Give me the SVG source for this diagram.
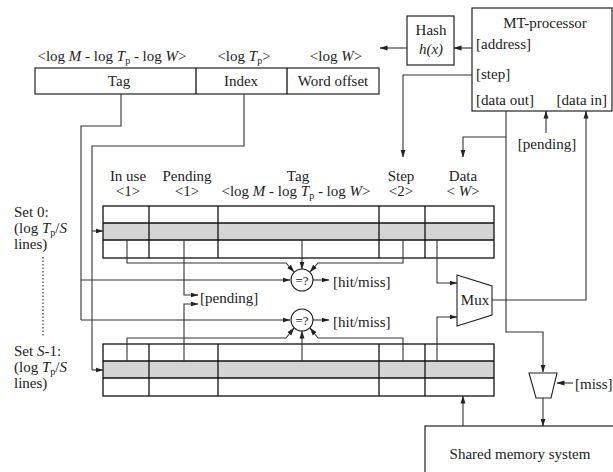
<svg xmlns="http://www.w3.org/2000/svg" width="613" height="472" viewBox="0 0 613 472">
<style>
text{font-family:"Liberation Serif","Times New Roman",serif;font-size:15px;fill:#222}
.m{text-anchor:middle}
.i{font-style:italic}
.sub{font-size:10px}
.box{fill:#fff;stroke:#222;stroke-width:1.2}
.gray{fill:#d4d4d4;stroke:none}
.tl{fill:none;stroke:#111;stroke-width:1.3}
.c{fill:none;stroke:#333;stroke-width:1.1}
.a{fill:none;stroke:#333;stroke-width:1.1;marker-end:url(#ah)}
.dot{fill:none;stroke:#333;stroke-width:1.2;stroke-dasharray:1.5 2}
</style>
<defs>
<marker id="ah" markerWidth="8" markerHeight="6" refX="7.5" refY="3" orient="auto" markerUnits="userSpaceOnUse">
<path d="M0,0.5 L8,3 L0,5.5 z" fill="#222"/>
</marker>
</defs>
<rect width="613" height="472" fill="#fff"/>

<g id="address-register">
<text class="m" x="112" y="61">&lt;log <tspan class="i">M</tspan> - log <tspan class="i">T</tspan><tspan class="sub" dy="3">p</tspan><tspan dy="-3"> - log </tspan><tspan class="i">W</tspan>&gt;</text>
<text class="m" x="244" y="61">&lt;log <tspan class="i">T</tspan><tspan class="sub" dy="3">p</tspan><tspan dy="-3">&gt;</tspan></text>
<text class="m" x="336" y="61">&lt;log <tspan class="i">W</tspan>&gt;</text>
<rect class="box" x="35" y="68" width="344" height="26"/>
<line class="tl" x1="196" y1="68" x2="196" y2="94"/>
<line class="tl" x1="287" y1="68" x2="287" y2="94"/>
<text class="m" x="119" y="86">Tag</text>
<text class="m" x="241" y="86">Index</text>
<text class="m" x="333" y="86">Word offset</text>
</g>

<g id="hash">
<rect class="box" x="407" y="16" width="47" height="49"/>
<text class="m" x="431" y="35">Hash</text>
<text class="m i" x="431" y="54">h(x)</text>
</g>

<g id="mt-processor">
<rect class="box" x="472" y="8" width="140" height="103"/>
<text class="m" x="545" y="28">MT-processor</text>
<text x="476" y="49">[address]</text>
<text x="476" y="79">[step]</text>
<text x="476" y="105">[data out]</text>
<text x="607" y="105" text-anchor="end">[data in]</text>
</g>

<g id="table-headers">
<text class="m" x="128" y="181">In use</text>
<text class="m" x="128" y="196">&lt;1&gt;</text>
<text class="m" x="187" y="181">Pending</text>
<text class="m" x="187" y="196">&lt;1&gt;</text>
<text class="m" x="298" y="181">Tag</text>
<text class="m" x="296" y="196">&lt;log <tspan class="i">M</tspan> - log <tspan class="i">T</tspan><tspan class="sub" dy="3">p</tspan><tspan dy="-3"> - log </tspan><tspan class="i">W</tspan>&gt;</text>
<text class="m" x="401" y="181">Step</text>
<text class="m" x="401" y="196">&lt;2&gt;</text>
<text class="m" x="463" y="181">Data</text>
<text class="m" x="463" y="196">&lt; <tspan class="i">W</tspan>&gt;</text>
</g>

<g id="set-0">
<text x="14" y="217">Set 0:</text>
<text x="14" y="233">(log <tspan class="i">T</tspan><tspan class="sub" dy="3">p</tspan><tspan dy="-3">/</tspan><tspan class="i">S</tspan></text>
<text x="14" y="249">lines)</text>
<rect class="gray" x="103" y="223" width="391" height="17"/>
<rect class="tl" x="103" y="206" width="391" height="52"/>
<line class="tl" x1="103" y1="223" x2="494" y2="223"/>
<line class="tl" x1="103" y1="240" x2="494" y2="240"/>
<line class="tl" x1="149" y1="206" x2="149" y2="258"/>
<line class="tl" x1="218" y1="206" x2="218" y2="258"/>
<line class="tl" x1="379" y1="206" x2="379" y2="258"/>
<line class="tl" x1="425" y1="206" x2="425" y2="258"/>
</g>

<g id="set-s-1">
<text x="14" y="356">Set <tspan class="i">S</tspan>-1:</text>
<text x="14" y="372">(log <tspan class="i">T</tspan><tspan class="sub" dy="3">p</tspan><tspan dy="-3">/</tspan><tspan class="i">S</tspan></text>
<text x="14" y="388">lines)</text>
<rect class="gray" x="103" y="361" width="391" height="17"/>
<rect class="tl" x="103" y="344" width="391" height="52"/>
<line class="tl" x1="103" y1="361" x2="494" y2="361"/>
<line class="tl" x1="103" y1="378" x2="494" y2="378"/>
<line class="tl" x1="149" y1="344" x2="149" y2="396"/>
<line class="tl" x1="218" y1="344" x2="218" y2="396"/>
<line class="tl" x1="379" y1="344" x2="379" y2="396"/>
<line class="tl" x1="425" y1="344" x2="425" y2="396"/>
</g>

<line id="sets-ellipsis" class="dot" x1="43" y1="257" x2="43" y2="336"/>

<g id="compare-0">
<circle cx="302" cy="280" r="11" fill="#fff" stroke="#222" stroke-width="1.1"/>
<text class="m" x="302" y="285" style="font-size:13px">=?</text>
</g>
<g id="compare-1">
<circle cx="302" cy="320" r="11" fill="#fff" stroke="#222" stroke-width="1.1"/>
<text class="m" x="302" y="325" style="font-size:13px">=?</text>
</g>

<g id="mux">
<polygon points="457,275 492,286 492,315 457,326" fill="#fff" stroke="#222" stroke-width="1.1"/>
<text class="m" x="475" y="305">Mux</text>
</g>

<g id="miss-mux">
<polygon points="529,373 557,373 551,398 536,398" fill="#fff" stroke="#222" stroke-width="1.1"/>
</g>

<g id="shared-memory">
<rect class="box" x="425" y="426" width="195" height="60"/>
<text class="m" x="520" y="459">Shared memory system</text>
</g>

<g id="labels">
<text x="333" y="287">[hit/miss]</text>
<text x="333" y="327">[hit/miss]</text>
<text x="200" y="303">[pending]</text>
<text class="m" x="547" y="149">[pending]</text>
<text x="575" y="389">[miss]</text>
</g>

<g id="connectors">
<!-- address to hash -->
<path class="a" d="M472,48 H454"/>
<path class="a" d="M407,48 H380"/>
<!-- step -->
<path class="a" d="M472,75 H403 V157"/>
<!-- data out -->
<path class="a" d="M506,111 V137 H463 V157"/>
<path class="a" d="M506,137 V332 H543 V372"/>
<!-- pending in -->
<path class="a" d="M546,133 V111"/>
<!-- data in from mux -->
<path class="a" d="M492,300 H586 V111"/>
<!-- tag address line -->
<path class="c" d="M121,94 V126 H81 V320"/>
<path class="a" d="M81,280 H290"/>
<path class="a" d="M81,320 H290"/>
<!-- index line -->
<path class="c" d="M244,94 V146 H92 V370"/>
<path class="a" d="M92,231 H103"/>
<path class="a" d="M92,370 H103"/>
<!-- set 0 to compare -->
<path class="a" d="M127,240 V263 H286 L294,272"/>
<path class="a" d="M302,240 V269"/>
<path class="a" d="M403,240 V263 H318 L310,272"/>
<!-- set S-1 to compare -->
<path class="a" d="M127,361 V338 H286 L294,328"/>
<path class="a" d="M302,361 V331"/>
<path class="a" d="M403,361 V338 H318 L310,328"/>
<!-- pending -->
<path class="a" d="M184,240 V295 H198"/>
<path class="a" d="M184,361 V304 H198"/>
<!-- hit/miss -->
<path class="a" d="M313,280 H329"/>
<path class="a" d="M313,320 H329"/>
<!-- data to mux -->
<path class="a" d="M437,240 V283 H457"/>
<path class="a" d="M437,361 V317 H457"/>
<!-- miss -->
<path class="a" d="M573,383 H557"/>
<path class="a" d="M543,398 V426"/>
<!-- shared memory to set S-1 -->
<path class="a" d="M463,426 V396"/>
</g>
</svg>
